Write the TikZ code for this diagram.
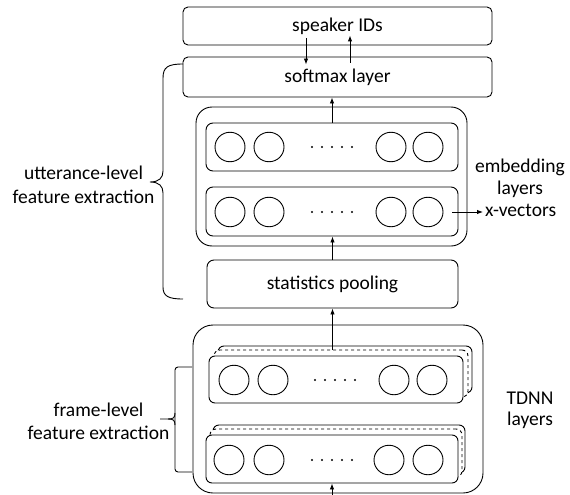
\documentclass[tikz,border=0pt]{standalone}
\usepackage{fontspec}
\setmainfont{Carlito}
\usetikzlibrary{arrows.meta,shapes.geometric}
\begin{document}
\begin{tikzpicture}[x=1pt,y=-1pt,
  lw/.style={line width=0.9pt},
  box/.style={draw,lw,rounded corners=#1,fill=white,inner sep=0pt},
  box/.default=6pt,
  neuron/.style={draw,lw,ellipse,minimum width=30pt,minimum height=29.5pt,inner sep=0pt},
  arr/.style={lw,-{Latex[length=6pt,width=4.5pt]}},
  lbl/.style={font=\fontsize{19.5}{24}\selectfont,align=center,inner sep=2pt},
  dotty/.style={fill,circle,inner sep=0pt,minimum size=2.2pt}
]
\useasboundingbox (0,0) rectangle (570,495);
% top boxes
\node[box=5pt,minimum width=309pt,minimum height=38pt,font=\fontsize{19.5}{24}\selectfont] (spk) at (337.5,26) {speaker IDs};
\node[box=5pt,minimum width=309pt,minimum height=40pt,font=\fontsize{19.5}{24}\selectfont] (soft) at (337.5,77) {softmax layer};
% embedding group
\node[box=16pt,minimum width=271pt,minimum height=139pt] (embout) at (331.5,176.5) {};
\node[box=7pt,minimum width=252pt,minimum height=48pt] (emb1) at (332,147) {};
\node[box=7pt,minimum width=252pt,minimum height=49pt] (emb2) at (332,211.5) {};
\foreach \r/\y in {emb1/147,emb2/212}{
  \foreach \dx [count=\i] in {-102,-63,59,96}{
    \node[neuron] (\r n\i) at (332+\dx,\y) {};
  }
  \foreach \dx in {-20,-10,0,10,20}{
    \node[dotty] at (332+\dx,\y) {};
  }
}
% statistics pooling
\node[box=7pt,minimum width=251pt,minimum height=48pt,font=\fontsize{19.5}{24}\selectfont] (pool) at (332.5,284) {statistics pooling};
% TDNN group
\node[box=20pt,minimum width=290pt,minimum height=168pt] (tdout) at (338,409) {};
% stack 1
\node[box=6pt,minimum width=254pt,minimum height=47pt] (t1back) at (345,369.5) {};
\node[box=6pt,dashed,minimum width=254pt,minimum height=47pt] (t1mid) at (341,373.5) {};
\node[box=6pt,minimum width=254pt,minimum height=47pt] (t1front) at (336,379.5) {};
\foreach \dx [count=\i] in {-102,-63,58,96}{
  \node[neuron] (t1n\i) at (336+\dx,380) {};
}
\foreach \dx in {-20,-10,0,10,20}{
  \node[dotty] at (335+\dx,380) {};
}
% stack 2
\node[box=6pt,minimum width=252pt,minimum height=48pt] (t2back) at (339,449) {};
\node[box=6pt,dashed,minimum width=252pt,minimum height=48pt] (t2mid) at (336,453) {};
\node[box=6pt,minimum width=252pt,minimum height=48pt] (t2front) at (332,459) {};
\foreach \dx [count=\i] in {-103,-63,57,96}{
  \node[neuron] (t2n\i) at (332+\dx,460) {};
}
\foreach \dx in {-20,-10,0,10,20}{
  \node[dotty] at (332+\dx,460) {};
}
% arrows
\draw[arr] ([xshift=-31.5pt,yshift=7pt]spk.south) -- ([xshift=-31.5pt,yshift=-8pt]soft.north);
\draw[arr] ([xshift=12.5pt,yshift=-6pt]soft.north) -- ([xshift=12.5pt,yshift=10pt]spk.south);
\draw[arr] (emb1.north) -- (emb1.north |- soft.south);
\draw[arr] (pool.north) -- (pool.north |- emb2.south);
\draw[arr] (pool.south |- t1mid.north) -- (pool.south);
\coordinate (input) at (332,495);
\draw[arr] (input) -- (t2front.south);
% labels
\node[lbl,anchor=west] (xv) at (483,210) {x-vectors};
\coordinate (xvstart) at (452,212);
\draw[arr] (xvstart) -- (xvstart -| xv.west);
\node[lbl,font=\fontsize{19.5}{22}\selectfont] (emblbl) at (520,178) {embedding\\layers};
\node[lbl,font=\fontsize{19.5}{21}\selectfont] (tdlbl) at (530,410) {TDNN\\layers};
\node[lbl] (utt) at (83.5,185) {utterance-level\\feature extraction};
\node[lbl,font=\fontsize{19.5}{23}\selectfont] (frm) at (98.5,421.5) {frame-level\\feature extraction};
% braces
\draw[lw] (183,64) .. controls (168,64) and (163,67) .. (163,78) -- (163,171)
  .. controls (163,178) and (159,182) .. (150,182)
  .. controls (159,182) and (163,186) .. (163,193) -- (163,287)
  .. controls (163,296) and (168,299) .. (183,299);
\draw[lw,rounded corners=3pt] (192,367) -- (175,367) -- (175,472) -- (192,472);
\draw[lw] (175,413) .. controls (175,418) and (173,419) .. (168,419) -- (160,419);
\draw[lw] (175,425) .. controls (175,420) and (173,419) .. (168,419);
\end{tikzpicture}
\end{document}
